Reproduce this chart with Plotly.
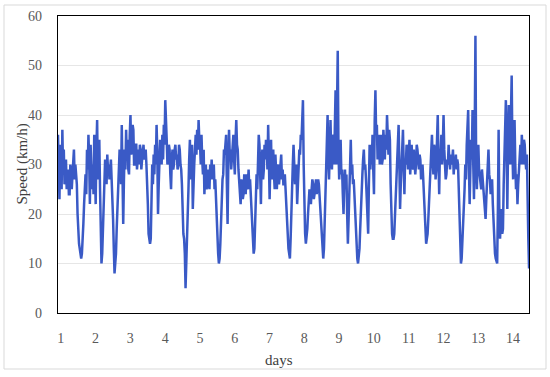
import plotly.graph_objects as go

# Half-hourly speed readings (km/h), one list per day
day01 = [36, 27, 23, 34, 30, 25, 37, 29, 33, 26, 28, 31, 25, 28, 29, 24, 24, 30, 27, 25, 28, 31, 33, 27,
         30, 28, 26, 20, 16, 14, 13, 12, 11, 12, 14, 18, 22, 26, 28, 24, 33, 29, 36, 31, 22, 34, 30, 25]
day02 = [30, 24, 36, 28, 22, 33, 39, 27, 30, 35, 25, 16, 10, 12, 17, 22, 26, 31, 29, 26, 32, 29, 30, 27,
         29, 31, 27, 24, 19, 13, 8, 10, 12, 17, 22, 25, 28, 33, 32, 26, 38, 30, 18, 27, 33, 29, 37, 31]
day03 = [35, 29, 28, 36, 40, 32, 33, 38, 37, 30, 30, 34, 34, 29, 31, 33, 30, 34, 33, 29, 31, 33, 34, 31,
         32, 33, 30, 27, 22, 16, 14, 14, 15, 22, 30, 26, 32, 28, 34, 30, 38, 33, 20, 26, 31, 35, 34, 30]
day04 = [36, 31, 38, 34, 43, 36, 35, 30, 31, 34, 33, 28, 25, 31, 33, 29, 30, 33, 34, 31, 32, 29, 30, 34,
         33, 30, 29, 26, 20, 16, 15, 12, 5, 9, 14, 20, 25, 31, 35, 27, 30, 34, 21, 28, 30, 33, 36, 32]
day05 = [37, 33, 39, 35, 34, 30, 36, 31, 28, 33, 24, 28, 30, 25, 26, 29, 28, 25, 30, 27, 31, 28, 27, 30,
         25, 27, 22, 19, 16, 12, 10, 11, 14, 19, 24, 27, 28, 33, 32, 35, 36, 26, 18, 30, 37, 32, 33, 29]
day06 = [32, 36, 36, 31, 28, 35, 39, 34, 33, 29, 27, 24, 22, 27, 26, 23, 24, 28, 27, 24, 28, 25, 26, 29,
         25, 27, 24, 21, 18, 15, 12, 13, 17, 23, 28, 25, 30, 36, 34, 27, 22, 31, 33, 27, 29, 34, 31, 35]
day07 = [34, 29, 38, 31, 23, 30, 35, 27, 30, 33, 28, 25, 32, 28, 25, 29, 30, 26, 28, 32, 32, 27, 29, 26,
         26, 28, 24, 22, 20, 16, 13, 12, 11, 15, 22, 27, 30, 34, 31, 26, 27, 30, 22, 26, 29, 33, 32, 36]
day08 = [35, 38, 43, 30, 20, 16, 14, 15, 17, 20, 22, 25, 24, 22, 25, 27, 26, 23, 24, 26, 27, 24, 25, 27,
         26, 23, 20, 17, 14, 12, 11, 13, 18, 25, 30, 34, 40, 31, 27, 33, 39, 32, 29, 35, 36, 30, 38, 45]
day09 = [30, 41, 53, 33, 27, 31, 35, 28, 29, 24, 20, 26, 29, 25, 28, 20, 14, 19, 25, 30, 35, 28, 30, 26,
         27, 24, 20, 16, 12, 11, 10, 11, 13, 17, 22, 26, 28, 31, 33, 29, 30, 27, 24, 20, 16, 26, 34, 29]
day10 = [34, 30, 36, 29, 24, 39, 45, 36, 38, 31, 33, 36, 30, 34, 36, 30, 31, 37, 34, 31, 36, 33, 40, 34,
         32, 37, 35, 26, 18, 16, 15, 15, 16, 20, 24, 27, 30, 34, 38, 30, 21, 26, 30, 34, 37, 30, 24, 31]
day11 = [30, 34, 33, 29, 32, 35, 28, 32, 34, 30, 29, 33, 31, 28, 30, 34, 33, 30, 29, 32, 31, 27, 28, 30,
         27, 24, 20, 16, 14, 15, 16, 19, 22, 26, 30, 33, 36, 31, 28, 34, 33, 27, 29, 35, 40, 31, 24, 33]
day12 = [32, 36, 30, 34, 40, 33, 30, 27, 28, 31, 30, 34, 31, 29, 32, 30, 31, 33, 28, 31, 30, 32, 29, 31,
         30, 26, 22, 14, 10, 11, 14, 17, 20, 25, 30, 27, 34, 38, 41, 30, 22, 29, 35, 31, 41, 30, 23, 36]
day13 = [56, 30, 25, 31, 34, 29, 28, 26, 25, 29, 27, 25, 24, 22, 19, 23, 26, 30, 33, 28, 27, 24, 25, 27,
         22, 18, 15, 12, 11, 10, 10, 21, 37, 20, 15, 19, 21, 16, 17, 26, 32, 38, 43, 35, 21, 33, 42, 36]
day14 = [30, 40, 48, 33, 27, 35, 39, 30, 25, 28, 22, 26, 28, 31, 34, 30, 36, 33, 30, 35, 34, 31, 29, 32,
         20, 15, 9]

day_labels = [str(d) for d in range(1, 15)]

speed = (day01 + day02 + day03 + day04 + day05 + day06 + day07 + day08 + day09
         + day10 + day11 + day12 + day13 + day14)
t_days = [i / 48 for i in range(len(speed))]

fig = go.Figure()
fig.add_trace(go.Scatter(
    x=t_days, y=speed, mode="lines",
    line=dict(color="#3a5ac6", width=2.5),
    hoverinfo="skip", showlegend=False,
))

axis_font = dict(family="Liberation Serif", size=14, color="#595959")
title_font = dict(family="Liberation Serif", size=15, color="#404040")
L, R, T, B = 58, 21, 16, 64
W, H = 550, 377
pw, ph = W - L - R, H - T - B

fig.update_layout(
    width=W, height=H,
    margin=dict(l=L, r=R, t=T, b=B, autoexpand=False),
    paper_bgcolor="white", plot_bgcolor="white",
    font=axis_font,
    xaxis=dict(
        range=[0, 13.54], automargin=False,
        tickvals=[d - 0.92 for d in range(1, 15)],
        ticktext=day_labels,
        showgrid=False, zeroline=False,
        showline=True, linecolor="black", linewidth=1.3, mirror=True,
        ticks="", ticklabelstandoff=12,
    ),
    yaxis=dict(
        range=[0, 60], dtick=10, automargin=False,
        showgrid=True, gridcolor="#e6e6e6", gridwidth=1,
        zeroline=False,
        showline=True, linecolor="black", linewidth=1.3, mirror=True,
        ticks="", ticklabelstandoff=12,
    ),
    annotations=[
        dict(text="days", xref="paper", yref="paper",
             x=(279 - L) / pw, y=(H - B - 360) / ph,
             xanchor="center", yanchor="middle", showarrow=False, font=title_font),
        dict(text="Speed (km/h)", xref="paper", yref="paper", textangle=-90,
             x=(22 - L) / pw, y=0.5,
             xanchor="center", yanchor="middle", showarrow=False, font=title_font),
    ],
    shapes=[dict(
        type="rect", xref="paper", yref="paper",
        x0=(4 - L) / pw, x1=(546 - L) / pw,
        y0=(H - B - 369) / ph, y1=(H - B - 5) / ph,
        line=dict(color="#d9d9d9", width=1), layer="below",
    )],
)

fig.write_html(
    "out.html",
    config={"displayModeBar": False},
    post_script="document.body.style.margin='0';document.body.style.overflow='hidden';",
)
